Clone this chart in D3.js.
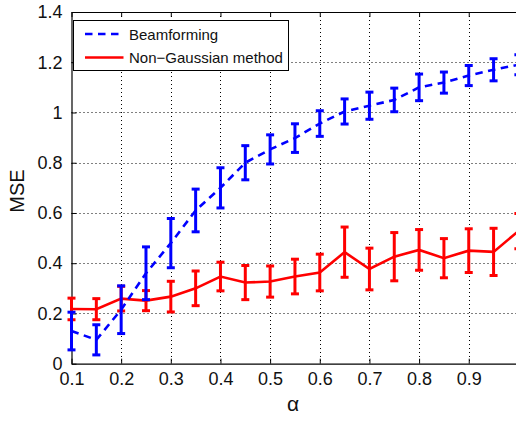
<!DOCTYPE html>
<html>
<head>
<meta charset="utf-8">
<script src="https://cdn.jsdelivr.net/npm/d3@7"></script>
<style>
  html, body { margin: 0; padding: 0; background: #fff; }
  svg { display: block; font-family: "Liberation Sans", Arial, Helvetica, sans-serif; }
</style>
</head>
<body>
<script>
// alpha sweep and MSE results (mean ± error) for the two estimators
const alpha = [0.1, 0.15, 0.2, 0.25, 0.3, 0.35, 0.4, 0.45, 0.5, 0.55, 0.6, 0.65, 0.7, 0.75, 0.8, 0.85, 0.9, 0.95, 1.0];
const beamMean = [0.13, 0.095, 0.215, 0.36, 0.48, 0.61, 0.70, 0.80, 0.853, 0.898, 0.956, 1.004, 1.027, 1.05, 1.10, 1.119, 1.147, 1.17, 1.19];
const beamErr  = [0.075, 0.06, 0.095, 0.105, 0.098, 0.085, 0.08, 0.068, 0.058, 0.057, 0.051, 0.05, 0.054, 0.047, 0.053, 0.042, 0.04, 0.044, 0.04];
const ngMean = [0.218, 0.217, 0.259, 0.251, 0.267, 0.30, 0.347, 0.323, 0.327, 0.347, 0.363, 0.444, 0.377, 0.426, 0.453, 0.42, 0.45, 0.445, 0.528];
const ngErr  = [0.043, 0.042, 0.049, 0.04, 0.061, 0.069, 0.057, 0.068, 0.062, 0.069, 0.073, 0.1, 0.083, 0.096, 0.081, 0.078, 0.087, 0.094, 0.07];
const xTicks = [0.1, 0.2, 0.3, 0.4, 0.5, 0.6, 0.7, 0.8, 0.9, 1.0];
const yTicks = [0, 0.2, 0.4, 0.6, 0.8, 1.0, 1.2, 1.4];
const seriesNames = ["Beamforming", "Non\u2212Gaussian method"];

const W = 516, H = 421;
const plotLeft = 71.5, plotRight = 518.4, plotTop = 12, plotBottom = 363.7;

const svg = d3.select("body").append("svg").attr("width", W).attr("height", H);

const x = d3.scaleLinear().domain([0.1, 1.0]).range([plotLeft, plotRight]);
const y = d3.scaleLinear().domain([0, 1.4]).range([plotBottom, plotTop]);

// dotted grid
const grid = svg.append("g");
grid.selectAll("line.gx").data(xTicks.filter(t => t > 0.1 && t < 1.0)).join("line")
  .attr("x1", d => Math.round(x(d)) + 0.5).attr("x2", d => Math.round(x(d)) + 0.5)
  .attr("y1", plotTop).attr("y2", plotBottom)
  .attr("stroke", "#000").attr("stroke-width", 1).attr("stroke-dasharray", "1,3");
grid.selectAll("line.gy").data(yTicks.filter(t => t > 0 && t < 1.4)).join("line")
  .attr("y1", d => Math.round(y(d)) + 0.5).attr("y2", d => Math.round(y(d)) + 0.5)
  .attr("x1", plotLeft).attr("x2", plotRight)
  .attr("stroke", "#000").attr("stroke-width", 1).attr("stroke-dasharray", "1,3");

// axes (inward ticks, box style)
const xAxis = svg.append("g").attr("transform", `translate(0,${plotBottom})`)
  .call(d3.axisBottom(x).tickValues(xTicks).tickFormat(d3.format(".1f")).tickSizeInner(-5).tickSizeOuter(0).tickPadding(9));
const xAxisTop = svg.append("g").attr("transform", `translate(0,${plotTop})`)
  .call(d3.axisTop(x).tickValues(xTicks).tickFormat("").tickSizeInner(-5).tickSizeOuter(0));
const yAxis = svg.append("g").attr("transform", `translate(${plotLeft},0)`)
  .call(d3.axisLeft(y).tickValues(yTicks).tickFormat(d => d === 0 ? "0" : (d === 1 ? "1" : d3.format(".1f")(d))).tickSizeInner(-5).tickSizeOuter(0).tickPadding(9));
xAxis.select("g.tick:last-child text").remove();
[xAxis, xAxisTop, yAxis].forEach(g => {
  g.attr("font-size", null).attr("font-family", null);
  g.selectAll("path.domain").attr("stroke", "#000").attr("stroke-width", 1.2);
  g.selectAll("line").attr("stroke", "#000");
  g.selectAll("text").attr("fill", "#111").style("font-size", "18px");
});

// axis titles
svg.append("text").attr("x", 293).attr("y", 411).attr("text-anchor", "middle")
  .style("font-size", "21px").attr("fill", "#111").text("\u03b1");
svg.append("text").attr("transform", "translate(24,191) rotate(-90)").attr("text-anchor", "middle")
  .style("font-size", "20px").attr("fill", "#111").text("MSE");

// series with error bars
function drawSeries(mean, err, color, dash) {
  const g = svg.append("g");
  const pts = alpha.map((a, i) => ({ a, m: mean[i], e: err[i] }));
  const cap = 4;
  pts.forEach(p => {
    const cx = x(p.a), y1 = y(p.m + p.e), y0 = y(p.m - p.e);
    g.append("line").attr("x1", cx).attr("x2", cx).attr("y1", y1).attr("y2", y0)
      .attr("stroke", color).attr("stroke-width", 3);
    g.append("line").attr("x1", cx - cap).attr("x2", cx + cap).attr("y1", y1).attr("y2", y1)
      .attr("stroke", color).attr("stroke-width", 3);
    g.append("line").attr("x1", cx - cap).attr("x2", cx + cap).attr("y1", y0).attr("y2", y0)
      .attr("stroke", color).attr("stroke-width", 3);
  });
  g.append("path").datum(pts)
    .attr("d", d3.line().x(p => x(p.a)).y(p => y(p.m)))
    .attr("fill", "none").attr("stroke", color).attr("stroke-width", 2.6)
    .attr("stroke-dasharray", dash || null);
}
drawSeries(ngMean, ngErr, "#ff0000", null);
drawSeries(beamMean, beamErr, "#0000ff", "7.5,5.5");

// legend
const lg = svg.append("g");
lg.append("rect").attr("x", 73.5).attr("y", 20.5).attr("width", 215).attr("height", 50)
  .attr("fill", "#fff").attr("stroke", "#000").attr("stroke-width", 1);
const legendItems = [
  { name: seriesNames[0], color: "#0000ff", dash: "7.5,5.5", y: 34 },
  { name: seriesNames[1], color: "#ff0000", dash: null, y: 57.5 }
];
legendItems.forEach(it => {
  lg.append("line").attr("x1", 85).attr("x2", 123.5).attr("y1", it.y).attr("y2", it.y)
    .attr("stroke", it.color).attr("stroke-width", 2.6).attr("stroke-dasharray", it.dash);
  lg.append("text").attr("x", 129).attr("y", it.y + 5.5).style("font-size", "15px")
    .attr("fill", "#111").text(it.name);
});
</script>
</body>
</html>
